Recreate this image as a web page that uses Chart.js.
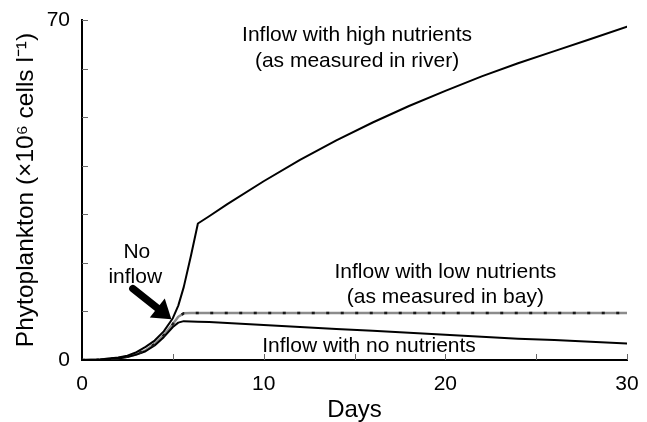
<!DOCTYPE html>
<html><head><meta charset="utf-8">
<script src="https://cdn.jsdelivr.net/npm/chart.js@4/dist/chart.umd.min.js"></script>
<style>html,body{margin:0;padding:0;background:#fff}</style>
</head><body>
<canvas id="c" width="647" height="422" style="display:block;width:647px;height:422px"></canvas>
<script>
// ---- data ----
const days           = [0, 1, 2, 2.5, 3, 3.5, 4, 4.5, 5, 5.3, 5.6, 6, 6.38, 7, 8, 10, 12, 14, 16, 18, 20, 22, 24, 26, 28, 30];
const highNutrients  = [0, 0.1, 0.5, 0.9, 1.6, 2.7, 4.0, 5.9, 8.6, 11.2, 15.0, 21.5, 28.1, 29.6, 32.1, 36.8, 41.2, 45.2, 48.9, 52.3, 55.4, 58.4, 61.1, 63.6, 66.1, 68.6];
const noInflow       = [0, 0.08, 0.4, 0.7, 1.2, 2.0, 3.3, 5.1, 7.4, 8.9, 9.6, 9.7, 9.7, 9.7, 9.7, 9.7, 9.7, 9.7, 9.7, 9.7, 9.7, 9.7, 9.7, 9.7, 9.7, 9.7];
const lowNutrients   = [0, 0.08, 0.4, 0.7, 1.2, 2.0, 3.3, 5.1, 7.4, 8.9, 9.6, 9.7, 9.7, 9.7, 9.7, 9.7, 9.7, 9.7, 9.7, 9.7, 9.7, 9.7, 9.7, 9.7, 9.7, 9.7];
const noNutrients    = [0, 0.05, 0.3, 0.6, 1.1, 1.8, 3.0, 4.7, 6.8, 7.7, 8.0, 7.95, 7.9, 7.8, 7.6, 7.2, 6.8, 6.4, 6.0, 5.6, 5.2, 4.8, 4.4, 4.1, 3.75, 3.4];
const xTickLabels    = {0: '0', 10: '10', 20: '20', 30: '30'};
const yTickLabels    = {0: '0', 70: '70'};
const xTitle = 'Days';
const yTitle = 'Phytoplankton (×10⁶ cells l⁻¹)';
const annotationTexts = [
  'Inflow with high nutrients', '(as measured in river)',
  'Inflow with low nutrients', '(as measured in bay)',
  'Inflow with no nutrients', 'No', 'inflow'
];

// ---- presentation ----
const FONT = '"Liberation Sans", Arial, Helvetica, sans-serif';
const annotationPlacement = [
  {day: 15.14, value: 65.7}, {day: 15.14, value: 60.4},
  {day: 20.0, value: 16.8}, {day: 20.0, value: 11.7},
  {day: 15.8, value: 1.65}, {day: 3.02, value: 20.9}, {day: 2.93, value: 15.8}
];
const arrowPlacement = {fromDay: 2.8, fromValue: 14.7, toDay: 4.92, toValue: 8.4};

function pts(ys) { return days.map((d, i) => ({x: d, y: ys[i]})); }

const decor = {
  id: 'decor',
  afterDraw(chart) {
    const {ctx, scales: {x, y}} = chart;
    ctx.save();
    // inward tick marks
    ctx.strokeStyle = '#666'; ctx.lineWidth = 1;
    for (let v = 10; v <= 70; v += 10) {
      const py = Math.round(y.getPixelForValue(v)) + 0.5;
      ctx.beginPath(); ctx.moveTo(x.left, py); ctx.lineTo(x.left + 6, py); ctx.stroke();
    }
    for (let d = 5; d <= 30; d += 5) {
      const px = Math.round(x.getPixelForValue(d)) + 0.5;
      ctx.beginPath(); ctx.moveTo(px, y.bottom); ctx.lineTo(px, y.bottom - 6); ctx.stroke();
    }
    // text annotations
    ctx.fillStyle = '#000';
    ctx.font = '21px ' + FONT;
    ctx.textAlign = 'center'; ctx.textBaseline = 'alphabetic';
    annotationTexts.forEach((t, i) => {
      const p = annotationPlacement[i];
      ctx.fillText(t, x.getPixelForValue(p.day), y.getPixelForValue(p.value));
    });
    // arrow
    const x0 = x.getPixelForValue(arrowPlacement.fromDay), y0 = y.getPixelForValue(arrowPlacement.fromValue);
    const x1 = x.getPixelForValue(arrowPlacement.toDay), y1 = y.getPixelForValue(arrowPlacement.toValue);
    const ang = Math.atan2(y1 - y0, x1 - x0);
    const headLen = 18, headW = 12;
    const bx = x1 - headLen * Math.cos(ang), by = y1 - headLen * Math.sin(ang);
    ctx.strokeStyle = '#000'; ctx.lineWidth = 7.5; ctx.lineCap = 'round';
    ctx.beginPath(); ctx.moveTo(x0, y0); ctx.lineTo(bx + 3 * Math.cos(ang), by + 3 * Math.sin(ang)); ctx.stroke();
    ctx.beginPath();
    ctx.moveTo(x1, y1);
    ctx.lineTo(bx + headW * Math.sin(ang), by - headW * Math.cos(ang));
    ctx.lineTo(bx - headW * Math.sin(ang), by + headW * Math.cos(ang));
    ctx.closePath(); ctx.fillStyle = '#000'; ctx.fill();
    ctx.restore();
  }
};

new Chart(document.getElementById('c'), {
  type: 'line',
  data: {
    datasets: [
      {label: 'Inflow with high nutrients', data: pts(highNutrients), borderColor: '#000', borderWidth: 2},
      {label: 'Inflow with low nutrients', data: pts(lowNutrients), borderColor: '#1a1a1a', borderWidth: 2.5, borderDash: [3, 11.5], borderCapStyle: 'butt'},
      {label: 'Inflow with no nutrients', data: pts(noNutrients), borderColor: '#000', borderWidth: 2},
      {label: 'No inflow', data: pts(noInflow), borderColor: '#8c8c8c', borderWidth: 2.5}
    ]
  },
  options: {
    responsive: false,
    animation: false,
    layout: {padding: {top: 20, right: 20, left: 0, bottom: 0}},
    plugins: {legend: {display: false}, tooltip: {enabled: false}},
    elements: {point: {radius: 0}, line: {tension: 0, fill: false, borderCapStyle: 'round', borderJoinStyle: 'round'}},
    scales: {
      x: {
        type: 'linear', min: 0, max: 30,
        border: {display: true, color: '#000', width: 2},
        grid: {display: false, drawTicks: false},
        ticks: {stepSize: 5, autoSkip: false, maxRotation: 0, padding: 12, color: '#000',
                font: {size: 21, family: FONT}, callback: v => xTickLabels[v] ?? ''},
        title: {display: true, text: xTitle, color: '#000', font: {size: 24, family: FONT, lineHeight: 1}, padding: {top: 0, bottom: 0}},
        afterFit(s) { s.height = 62; s.paddingLeft = 0; s.paddingRight = 0; }
      },
      y: {
        type: 'linear', min: 0, max: 70,
        border: {display: true, color: '#000', width: 2},
        grid: {display: false, drawTicks: false},
        ticks: {stepSize: 10, autoSkip: false, padding: 12, color: '#000',
                font: {size: 21, family: FONT}, callback: v => yTickLabels[v] ?? ''},
        title: {display: true, text: yTitle, color: '#000', font: {size: 24.5, family: FONT, lineHeight: 1}, padding: {top: 14, bottom: 0}},
        afterFit(s) { s.width = 82; s.paddingTop = 0; s.paddingBottom = 0; }
      }
    }
  },
  plugins: [decor]
});
</script>
</body></html>
